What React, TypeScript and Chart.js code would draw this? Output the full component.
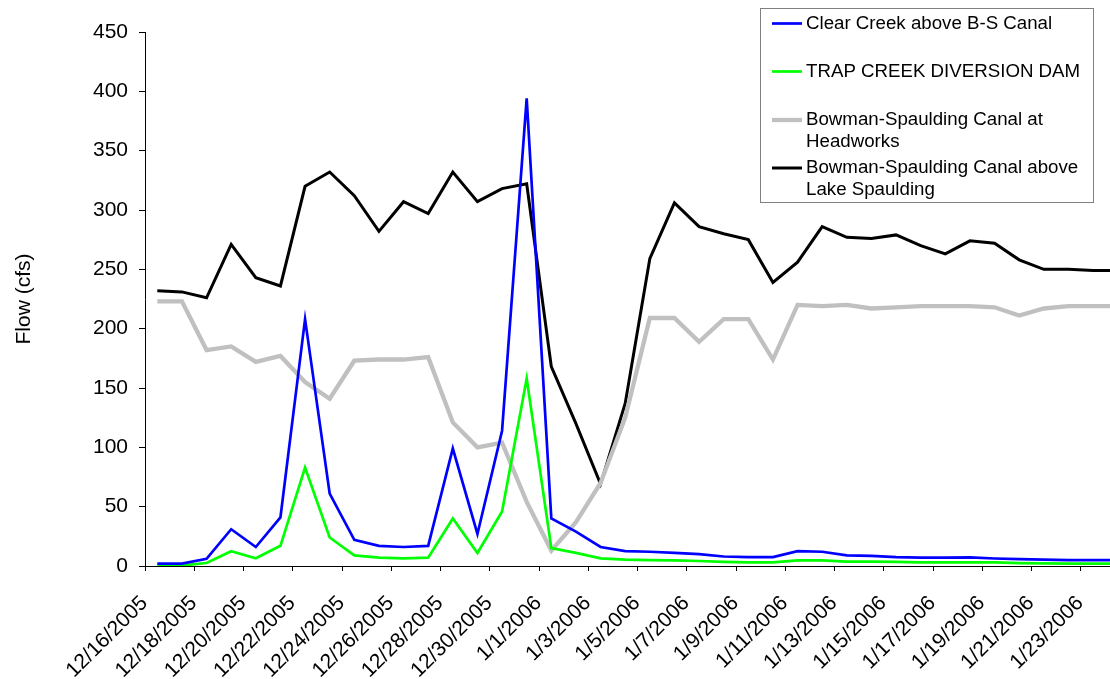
import React, { useEffect, useRef } from 'react';
import { Chart, registerables } from 'chart.js';

Chart.register(...registerables);

const dates = [
  '12/16/2005', '12/17/2005', '12/18/2005', '12/19/2005', '12/20/2005', '12/21/2005',
  '12/22/2005', '12/23/2005', '12/24/2005', '12/25/2005', '12/26/2005', '12/27/2005',
  '12/28/2005', '12/29/2005', '12/30/2005', '12/31/2005', '1/1/2006', '1/2/2006',
  '1/3/2006', '1/4/2006', '1/5/2006', '1/6/2006', '1/7/2006', '1/8/2006',
  '1/9/2006', '1/10/2006', '1/11/2006', '1/12/2006', '1/13/2006', '1/14/2006',
  '1/15/2006', '1/16/2006', '1/17/2006', '1/18/2006', '1/19/2006', '1/20/2006',
  '1/21/2006', '1/22/2006', '1/23/2006', '1/24/2006',
];

const clearCreek = [
  2, 2, 6, 31, 16, 41, 208, 61, 22, 17, 16, 17, 99, 27, 114, 394,
  40, 29, 16, 12.5, 12, 11, 10, 8, 7.5, 7.5, 12.5, 12, 9, 8.5,
  7.5, 7, 7, 7.2, 6.3, 5.8, 5.3, 5, 5, 5,
];

const trapCreek = [
  0.5, 0.5, 2.5, 12.5, 6.5, 17, 83, 24, 9, 7, 6.5, 7, 40, 11, 46, 158,
  15, 11, 6.5, 5.3, 5, 4.8, 4.2, 3.5, 3, 3, 4.8, 4.8, 3.7, 3.7,
  3.4, 3, 3, 3, 3, 2.5, 2.2, 2, 2, 2,
];

const headworks = [
  223, 223, 182, 185, 172, 177, 155, 141, 173, 174, 174, 176, 121, 100, 104, 54,
  13, 37, 70, 125, 209, 209, 189, 208, 208, 174, 220, 219, 220, 217,
  218, 219, 219, 219, 218, 211, 217, 219, 219, 219,
];

const aboveLake = [
  232, 231, 226, 271, 243, 236, 320, 332, 312, 282, 307, 297, 332, 307, 318, 322,
  168, 120, 69, 137, 259, 306, 286, 280, 275, 239, 256, 286, 277, 276,
  279, 270, 263, 274, 272, 258, 250, 250, 249, 249,
];

const seriesNames = [
  'Clear Creek above B-S Canal',
  'TRAP CREEK DIVERSION DAM',
  'Bowman-Spaulding Canal at\nHeadworks',
  'Bowman-Spaulding Canal above\nLake Spaulding',
];
const seriesValues = [clearCreek, trapCreek, headworks, aboveLake];
const seriesColors = ['#0000FF', '#00FF00', '#C0C0C0', '#000000'];
const seriesWidths = [2.7, 2.7, 4.3, 3];

const yAxisTitle = 'Flow (cfs)';
const yMin = 0;
const yMax = 450;
const yStep = 50;

const FONT = '"Liberation Sans", Arial, sans-serif';

const boxLegend = {
  id: 'boxLegend',
  afterDraw(chart: any) {
    const ctx = chart.ctx as CanvasRenderingContext2D;
    ctx.save();
    const bx = 760.5, by = 8.5, bw = 333, bh = 194;
    ctx.fillStyle = '#ffffff';
    ctx.fillRect(bx, by, bw, bh);
    ctx.strokeStyle = '#808080';
    ctx.lineWidth = 1;
    ctx.strokeRect(bx, by, bw, bh);
    const rowY = [23.5, 71.5, 120, 168];
    const lineH = 22;
    ctx.font = `18.7px ${FONT}`;
    ctx.textBaseline = 'middle';
    ctx.textAlign = 'left';
    chart.data.datasets.forEach((ds: any, i: number) => {
      const y = rowY[i];
      ctx.strokeStyle = ds.borderColor;
      ctx.lineWidth = ds.borderWidth;
      ctx.beginPath();
      ctx.moveTo(772, y);
      ctx.lineTo(802, y);
      ctx.stroke();
      ctx.fillStyle = '#000000';
      seriesNames[i].split('\n').forEach((t, k) => {
        ctx.fillText(t, 806, y + k * lineH);
      });
    });
    ctx.restore();
  },
};

export default function App() {
  const ref = useRef<HTMLCanvasElement | null>(null);

  useEffect(() => {
    document.body.style.margin = '0';
    const canvas = ref.current;
    if (!canvas) return;
    const chart = new Chart(canvas, {
      type: 'line',
      data: {
        labels: dates,
        datasets: seriesValues.map((vals, i) => ({
          label: seriesNames[i].replace('\n', ' '),
          data: vals,
          borderColor: seriesColors[i],
          backgroundColor: seriesColors[i],
          borderWidth: seriesWidths[i],
          pointRadius: 0,
          tension: 0,
          fill: false,
          borderJoinStyle: 'miter' as const,
        })),
      },
      options: {
        responsive: false,
        animation: false,
        layout: { padding: { top: 32, right: 10, left: 0, bottom: 0 } },
        plugins: {
          legend: { display: false },
          tooltip: { enabled: false },
        },
        scales: {
          x: {
            type: 'category',
            offset: true,
            grid: {
              offset: true,
              drawOnChartArea: false,
              drawTicks: true,
              tickLength: 5,
              lineWidth: 1,
              tickColor: (c: any) => (c.index % 2 === 0 ? '#000000' : 'rgba(0,0,0,0)'),
            },
            border: { color: '#000000', width: 1 },
            ticks: {
              autoSkip: false,
              maxRotation: 45,
              minRotation: 45,
              labelOffset: -13,
              padding: 20,
              color: '#000000',
              font: { family: FONT, size: 21 },
              callback: (_v: any, i: number) => (i % 2 === 0 ? dates[i] : ''),
            },
            afterFit: (s: any) => {
              s.height = 113;
              s.paddingLeft = 0;
              s.paddingRight = 0;
            },
          },
          y: {
            min: yMin,
            max: yMax,
            grid: {
              drawOnChartArea: false,
              drawTicks: true,
              tickLength: 6,
              tickColor: '#000000',
            },
            border: { color: '#000000', width: 1 },
            ticks: {
              stepSize: yStep,
              padding: 11,
              color: '#000000',
              font: { family: FONT, size: 21 },
            },
            title: {
              display: true,
              text: yAxisTitle,
              color: '#000000',
              font: { family: FONT, size: 21 },
              padding: { top: 12, bottom: 0 },
            },
            afterFit: (s: any) => {
              s.width = 145;
              s.paddingTop = 0;
              s.paddingBottom = 0;
            },
          },
        },
      },
      plugins: [boxLegend],
    });
    return () => chart.destroy();
  }, []);

  return (
    <div
      style={{
        position: 'fixed',
        left: 0,
        top: 0,
        width: 1110,
        height: 679,
        overflow: 'hidden',
        background: '#ffffff',
      }}
    >
      <canvas ref={ref} width={1140} height={679} style={{ display: 'block' }} />
    </div>
  );
}
